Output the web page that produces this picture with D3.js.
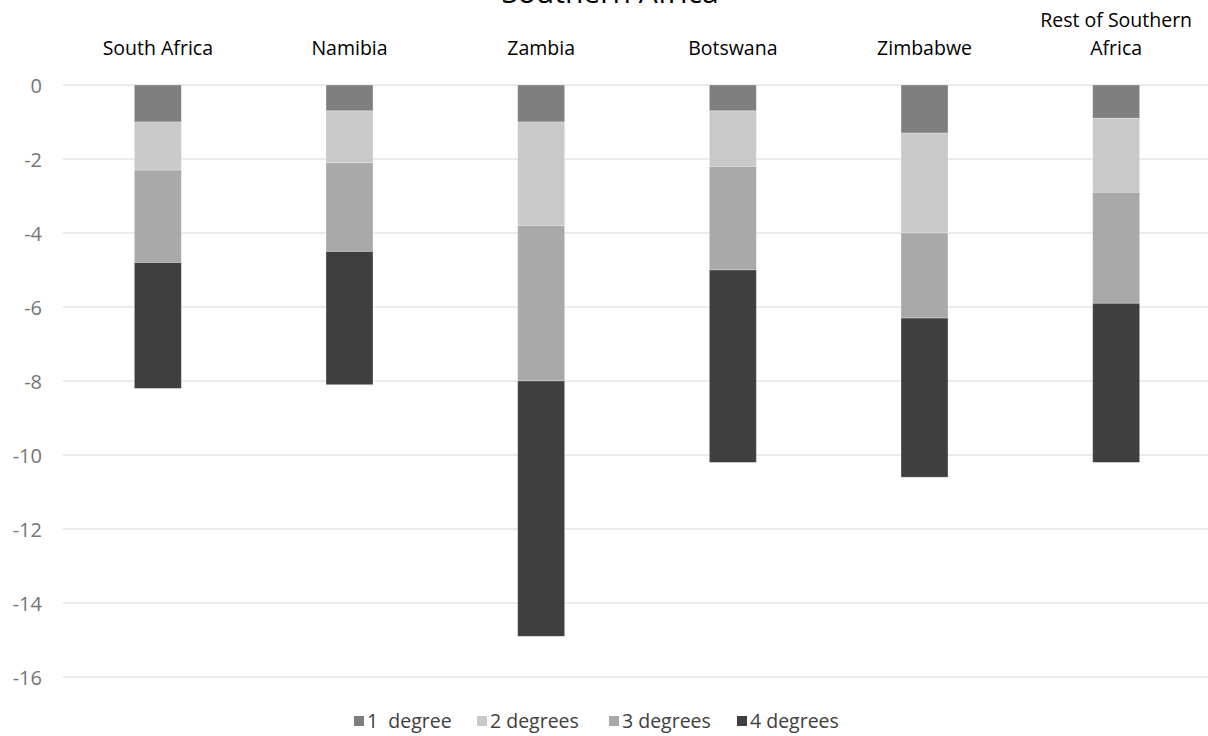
<!DOCTYPE html>
<html>
<head>
<meta charset="utf-8">
<script src="https://cdn.jsdelivr.net/npm/d3@7"></script>
<style>
  html, body { margin: 0; padding: 0; background: #fff; }
  svg { display: block; }
  text { font-family: "Open Sans", "Noto Sans", sans-serif; }
</style>
</head>
<body>
<svg id="chart" width="1208" height="736"></svg>
<script>
const title = "Southern Africa";
const categories = ["South Africa", "Namibia", "Zambia", "Botswana", "Zimbabwe", "Rest of Southern Africa"];
const seriesNames = ["1  degree", "2 degrees", "3 degrees", "4 degrees"];
const deg1 = [-1.0, -0.7, -1.0, -0.7, -1.3, -0.9];
const deg2 = [-1.3, -1.4, -2.8, -1.5, -2.7, -2.0];
const deg3 = [-2.5, -2.4, -4.2, -2.8, -2.3, -3.0];
const deg4 = [-3.4, -3.6, -6.9, -5.2, -4.3, -4.3];
const yTicks = [0, -2, -4, -6, -8, -10, -12, -14, -16];
const colors = ["#7f7f7f", "#c9c9c9", "#a9a9a9", "#3f3f3f"];

const seriesValues = [deg1, deg2, deg3, deg4];
const rows = categories.map((c, i) => {
  const r = { cat: c };
  seriesNames.forEach((s, j) => { r[s] = seriesValues[j][i]; });
  return r;
});

const svg = d3.select("#chart");
const x = d3.scaleBand().domain(categories).range([62, 1212]).paddingInner(0.755).paddingOuter(0.3775);
const y = d3.scaleLinear().domain([0, -16]).range([85, 677]);

// gridlines
svg.append("g").selectAll("line").data(yTicks).join("line")
  .attr("x1", 63).attr("x2", 1208)
  .attr("y1", d => y(d)).attr("y2", d => y(d))
  .attr("stroke", "#e4e4e4").attr("stroke-width", 1.5);

// y axis labels
const yAxis = d3.axisLeft(y).tickValues(yTicks).tickSize(0).tickPadding(0)
  .tickFormat(d => String(d));
const ya = svg.append("g").attr("transform", "translate(42,0)").call(yAxis);
ya.select(".domain").remove();
ya.selectAll("text").attr("font-size", 20).attr("fill", "#767676")
  .style("font-family", "'Open Sans', sans-serif").attr("dy", "0.35em");

// stacked bars
const stack = d3.stack().keys(seriesNames).offset(d3.stackOffsetDiverging);
const stacked = stack(rows);
svg.append("g").selectAll("g").data(stacked).join("g")
  .attr("fill", (d, i) => colors[i])
  .selectAll("rect").data(d => d).join("rect")
  .attr("x", d => x(d.data.cat))
  .attr("width", x.bandwidth())
  .attr("y", d => y(Math.max(d[0], d[1])))
  .attr("height", d => Math.abs(y(d[0]) - y(d[1])))
  .attr("stroke", "rgba(255,255,255,0.35)").attr("stroke-width", 0.8);

// category labels on top
const xAxis = d3.axisTop(x).tickSize(0).tickPadding(0);
const xa = svg.append("g").attr("transform", "translate(0,55)").call(xAxis);
xa.select(".domain").remove();
xa.selectAll("text").remove();
xa.selectAll(".tick").each(function(d) {
  const g = d3.select(this);
  const lines = d === "Rest of Southern Africa" ? ["Rest of Southern", "Africa"] : [d];
  lines.forEach((ln, k) => {
    g.append("text").attr("text-anchor", "middle")
      .attr("y", -(lines.length - 1 - k) * 28)
      .attr("font-size", 19.5).attr("fill", "#000").text(ln);
  });
});

// title
svg.append("text").attr("x", 610).attr("y", 3).attr("text-anchor", "middle")
  .attr("font-size", 30).attr("fill", "#000").text(title);

// legend
const legendX = [354, 477, 609, 737];
const lg = svg.append("g").selectAll("g").data(seriesNames).join("g")
  .attr("transform", (d, i) => `translate(${legendX[i]},716)`);
lg.append("rect").attr("width", 10).attr("height", 10).attr("fill", (d, i) => colors[i]);
lg.append("text").attr("x", 13).attr("y", 5).attr("dy", "0.35em")
  .attr("font-size", 19.5).attr("fill", "#404040").style("white-space", "pre").text(d => d);
</script>
</body>
</html>
